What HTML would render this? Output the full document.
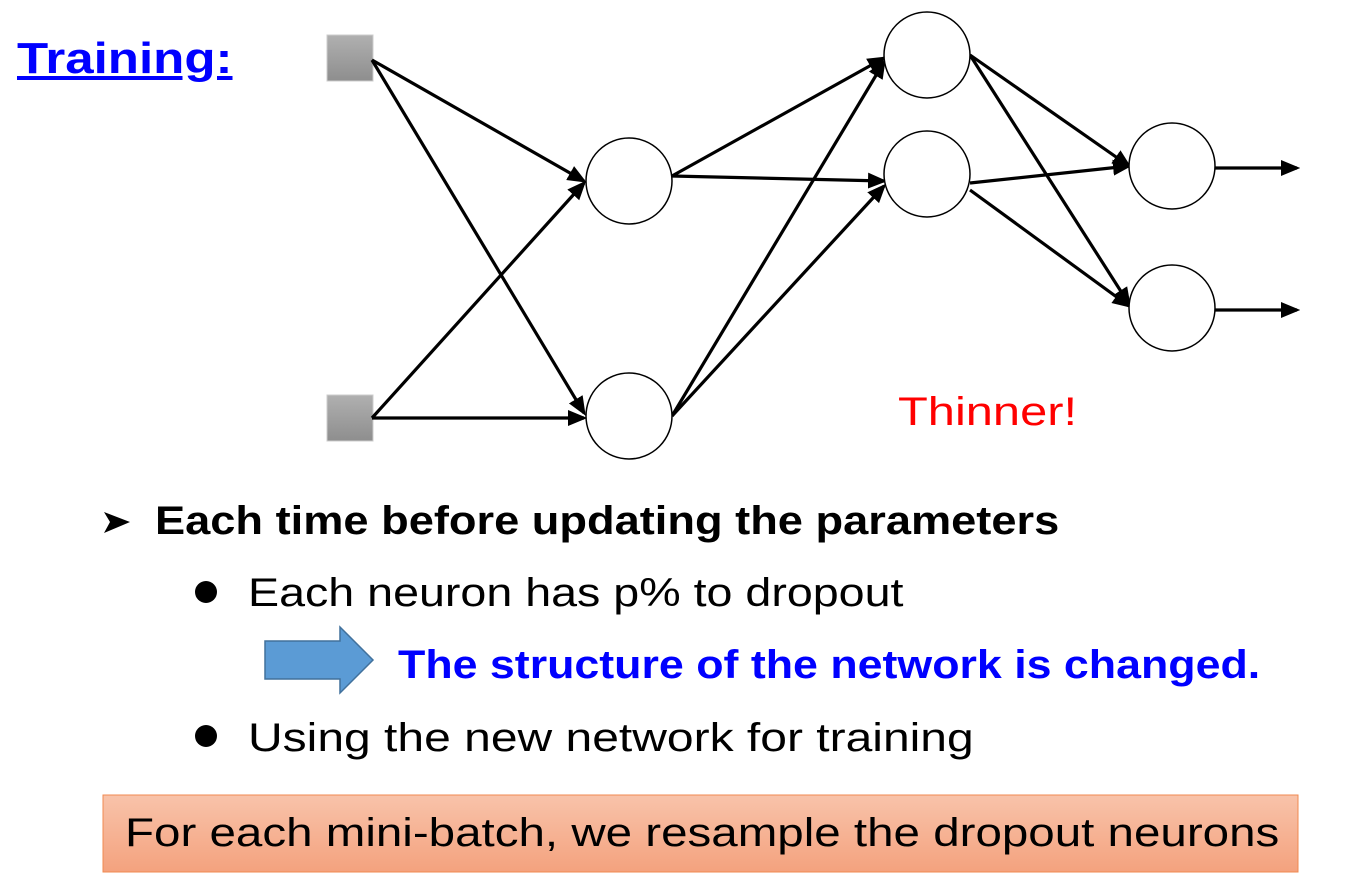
<!DOCTYPE html>
<html><head><style>
body{margin:0;width:1365px;height:893px;background:#fff;position:relative;overflow:hidden;font-family:"Liberation Sans",sans-serif}
.t{position:absolute;white-space:nowrap;line-height:1;transform-origin:0 0}
</style></head><body>
<svg width="1365" height="893" style="position:absolute;left:0;top:0">
<defs>
<linearGradient id="g" x1="0" y1="0" x2="0" y2="1"><stop offset="0" stop-color="#b0b0b0"/><stop offset="1" stop-color="#8e8e8e"/></linearGradient>
<marker id="a" markerWidth="6" markerHeight="6" refX="5" refY="3" orient="auto" markerUnits="strokeWidth"><path d="M0,0.5 L6,3 L0,5.5 z" fill="#000"/></marker>
<linearGradient id="o" x1="0" y1="0" x2="0" y2="1"><stop offset="0" stop-color="#f8c3aa"/><stop offset="1" stop-color="#f4a27e"/></linearGradient>
</defs>
<rect x="327" y="35" width="46" height="46" fill="url(#g)" stroke="#ccc"/>
<rect x="327" y="395" width="46" height="46" fill="url(#g)" stroke="#ccc"/>
<g stroke="#000" stroke-width="3.2" marker-end="url(#a)" fill="none">
<line x1="372" y1="60" x2="584" y2="181"/>
<line x1="372" y1="60" x2="584" y2="413"/>
<line x1="372" y1="418" x2="584" y2="183"/>
<line x1="372" y1="418" x2="584" y2="418"/>
<line x1="672" y1="176" x2="884" y2="58"/>
<line x1="672" y1="176" x2="884" y2="181"/>
<line x1="672" y1="416" x2="884" y2="62"/>
<line x1="672" y1="416" x2="884" y2="186"/>
<line x1="970" y1="55" x2="1129" y2="166"/>
<line x1="970" y1="55" x2="1129" y2="304"/>
<line x1="970" y1="183" x2="1129" y2="166"/>
<line x1="970" y1="190" x2="1129" y2="306"/>
<line x1="1215" y1="168" x2="1297" y2="168"/>
<line x1="1215" y1="310" x2="1297" y2="310"/>
</g>
<g fill="#fff" stroke="#000" stroke-width="1.5">
<circle cx="629" cy="181" r="43"/><circle cx="629" cy="416" r="43"/>
<circle cx="927" cy="55" r="43"/><circle cx="927" cy="174" r="43"/>
<circle cx="1172" cy="166" r="43"/><circle cx="1172" cy="308" r="43"/>
</g>
<path d="M265,641 H340 V627 L373,660 L340,693 V679 H265 Z" fill="#5b9bd5" stroke="#41719c" stroke-width="1.5"/>
<rect x="103" y="795" width="1195" height="77" fill="url(#o)" stroke="#f08a50" stroke-width="1"/>
<circle cx="206" cy="592" r="11" fill="#000"/>
<circle cx="206" cy="736" r="11" fill="#000"/>
<path d="M104,512 L130,522 L104,533 L110,522 Z" fill="#000"/>
</svg>
<div class="t" style="left:17px;top:37px;font-size:44px;font-weight:bold;color:#0000ff;text-decoration:underline;transform:scaleX(1.16)">Training:</div>
<div class="t" style="left:898px;top:392px;font-size:40px;color:#ff0000;transform:scaleX(1.22)">Thinner!</div>
<div class="t" style="left:155px;top:501px;font-size:40px;font-weight:bold;transform:scaleX(1.13)">Each time before updating the parameters</div>
<div class="t" style="left:248px;top:573px;font-size:40px;transform:scaleX(1.165)">Each neuron has p% to dropout</div>
<div class="t" style="left:398px;top:645px;font-size:40px;font-weight:bold;color:#0000ff;transform:scaleX(1.118)">The structure of the network is changed.</div>
<div class="t" style="left:248px;top:718px;font-size:40px;transform:scaleX(1.2)">Using the new network for training</div>
<div class="t" style="left:125px;top:813px;font-size:40px;transform:scaleX(1.188)">For each mini-batch, we resample the dropout neurons</div>
</body></html>
